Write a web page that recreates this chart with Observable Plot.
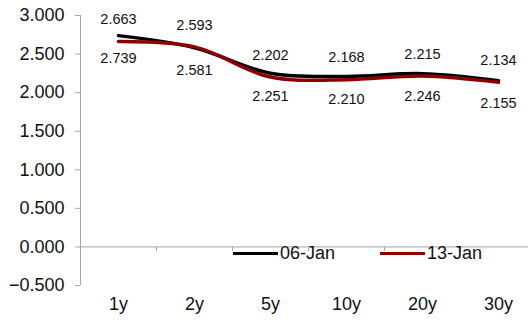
<!DOCTYPE html>
<html>
<head>
<meta charset="utf-8">
<script src="https://cdn.jsdelivr.net/npm/d3@7"></script>
<script src="https://cdn.jsdelivr.net/npm/@observablehq/plot@0.6"></script>
<style>
  html, body { margin: 0; padding: 0; background: #fff; }
  #wrap { position: relative; width: 528px; height: 321px; font-family: "Liberation Sans", Arial, sans-serif; }
  #legend { position: absolute; left: 233px; top: 243px; display: flex; align-items: center; font-size: 18px; color: #111; background: transparent; }
  .item { display: flex; align-items: center; margin-right: 5px; }
  .sw { display: inline-block; width: 45px; height: 3px; margin-right: 2px; }
</style>
</head>
<body>
<div id="wrap"><div id="legend"></div></div>
<script>
const categories = ["1y", "2y", "5y", "10y", "20y", "30y"];
const seriesNames = ["06-Jan", "13-Jan"];
const jan06 = [2.739, 2.581, 2.251, 2.210, 2.246, 2.155];
const jan13 = [2.663, 2.593, 2.202, 2.168, 2.215, 2.134];
const yTicks = [-0.5, 0, 0.5, 1, 1.5, 2, 2.5, 3];
const colors = ["#000000", "#8b0000"];

const rows06 = categories.map((c, i) => ({cat: c, v: jan06[i]}));
const rows13 = categories.map((c, i) => ({cat: c, v: jan13[i]}));
const fmt = d3.format(".3f");
const grey = "#a6a6a6";
const step = 76;

const chart = Plot.plot({
  width: 528,
  height: 321,
  marginLeft: 80,
  marginRight: 0,
  marginTop: 15,
  marginBottom: 36,
  style: {fontFamily: "'Liberation Sans', Arial, sans-serif", color: "#111", background: "transparent"},
  x: {type: "point", domain: categories, range: [80, 536], padding: 0.5, axis: null},
  y: {domain: [-0.5, 3], axis: null},
  marks: [
    Plot.ruleY([0], {stroke: grey, strokeWidth: 1}),
    Plot.ruleX(categories.slice(0, -1), {x: d => d, dx: step / 2, y1: 0, y2: -0.5, insetBottom: 34, stroke: grey}),
    Plot.ruleX([categories[0]], {dx: -step / 2, y1: -0.5, y2: 3, stroke: grey}),
    Plot.axisY({ticks: yTicks, tickFormat: fmt, tickSize: 5, tickPadding: 11, fontSize: 18, stroke: grey, fill: "#111", label: null}),
    Plot.text(categories, {x: d => d, frameAnchor: "bottom", dy: 24, fontSize: 18, fill: "#111"}),
    Plot.line(rows06, {x: "cat", y: "v", stroke: colors[0], strokeWidth: 3.5, curve: "catmull-rom"}),
    Plot.line(rows13, {x: "cat", y: "v", stroke: colors[1], strokeWidth: 3.5, curve: "catmull-rom"}),
    Plot.text(rows06, {x: "cat", y: "v", text: d => fmt(d.v), dy: 23, fontSize: 14.5, fill: "#111"}),
    Plot.text(rows13, {x: "cat", y: "v", text: d => fmt(d.v), dy: -22, fontSize: 14.5, fill: "#111"})
  ]
});
const wrap = document.getElementById("wrap");
wrap.insertBefore(chart, wrap.firstChild);

const legend = document.getElementById("legend");
seriesNames.forEach((name, i) => {
  const item = document.createElement("div");
  item.className = "item";
  item.style.marginRight = i === 0 ? "45px" : "0";
  const sw = document.createElement("span");
  sw.className = "sw";
  sw.style.background = colors[i];
  const t = document.createElement("span");
  t.textContent = name;
  item.appendChild(sw);
  item.appendChild(t);
  legend.appendChild(item);
});
</script>
</body>
</html>
